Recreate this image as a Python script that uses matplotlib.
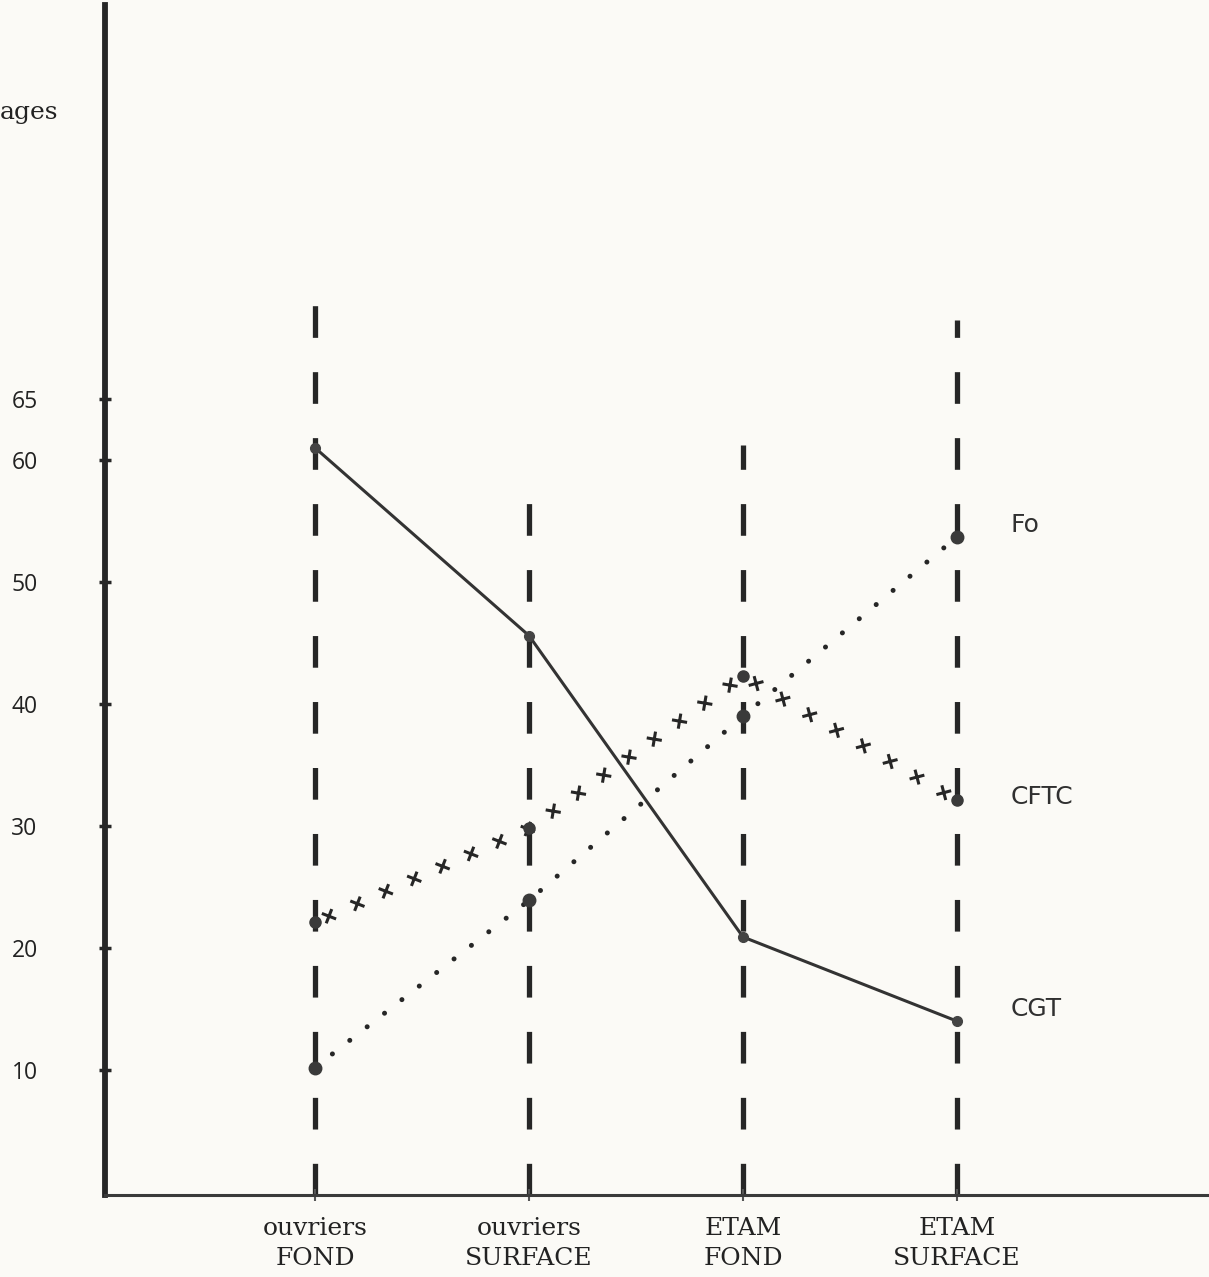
import matplotlib
matplotlib.use("Agg")
from matplotlib import pyplot as plt
from matplotlib import patheffects as pe

# categories and percentages
categories = ["ouvriers\nFOND", "ouvriers\nSURFACE", "ETAM\nFOND", "ETAM\nSURFACE"]
cgt = [61.0, 45.6, 20.9, 14.0]
fo = [10.2, 23.9, 39.0, 53.7]
cftc = [22.1, 29.8, 42.3, 32.1]
yticks = [10, 20, 30, 40, 50, 60, 65]

# top of the dashed guide line drawn on each category
guide_top = [74.3, 57.7, 61.2, 71.5]

W, H = 1209, 1277
ink = "#262626"
paper = "#fbfaf6"

fig = plt.figure(figsize=(W / 100, H / 100), dpi=100, facecolor=paper)
# axes corner sits where the hand drawn axes cross
ax = fig.add_axes([105 / W, (H - 1195) / H, (W - 105) / W, (1195 - 5) / H])
ax.set_facecolor(paper)

x = list(range(1, len(categories) + 1))
ax.set_xlim(1 - 210 / 214, 1 + (W - 315) / 214)
ax.set_ylim(-0.25, (1192 - 5) / 12.2)

# dashed guides
for xi, top in zip(x, guide_top):
    ax.plot([xi, xi], [-0.25, top], color=ink, lw=3.8,
            linestyle=(0, (6, 6.5)), solid_capstyle="butt", zorder=1)

# CGT : solid line
ax.plot(x, cgt, color="#333333", lw=2.2, zorder=3)
ax.plot(x, cgt, "o", color="#444444", ms=7, zorder=4)

# FO : dotted line
ax.plot(x, fo, color=ink, lw=3.6, linestyle=(0, (0.01, 4.4)),
        dash_capstyle="round", zorder=3)
ax.plot(x, fo, "o", color="#3a3a3a", ms=9, zorder=4)

# CFTC : line of small crosses
cross = [pe.TickedStroke(spacing=22, angle=a, length=0.2)
         for a in (45, 135, -45, -135)]
ax.plot(x, cftc, color=ink, lw=2.2, path_effects=cross, zorder=3)
ax.plot(x, cftc, "o", color="#3a3a3a", ms=8, zorder=4)

# series names written by hand next to the last column
hand = dict(fontsize=18, color="#303030", family="DejaVu Sans",
            va="center", ha="left")
ax.text(4.25, fo[-1] + 1.0, "Fo", **hand)
ax.text(4.25, cftc[-1] + 0.3, "CFTC", **hand)
ax.text(4.25, cgt[-1] + 1.0, "CGT", **hand)

# axes styling
for side in ("top", "right"):
    ax.spines[side].set_visible(False)
ax.spines["left"].set_linewidth(4.2)
ax.spines["left"].set_color(ink)
ax.spines["bottom"].set_linewidth(2.2)
ax.spines["bottom"].set_color("#3a3a3a")

ax.set_yticks(yticks)
ax.set_yticklabels([str(v) for v in yticks], fontsize=16.5, color="#222222",
                   family="Open Sans")
ax.tick_params(axis="y", direction="inout", length=9, width=2.5,
               color=ink, pad=44)

ax.set_xticks(x)
ax.set_xticklabels(categories, fontsize=18, family="DejaVu Serif",
                   color="#222222", linespacing=1.35)
ax.tick_params(axis="x", direction="inout", length=8, width=1.5,
               color="#555555", pad=12)

fig.text(0, 1 - 112 / H, "ages", fontsize=18, family="DejaVu Serif",
         color="#222222", ha="left", va="center")

fig.savefig("out.png", dpi=100, facecolor=paper)
